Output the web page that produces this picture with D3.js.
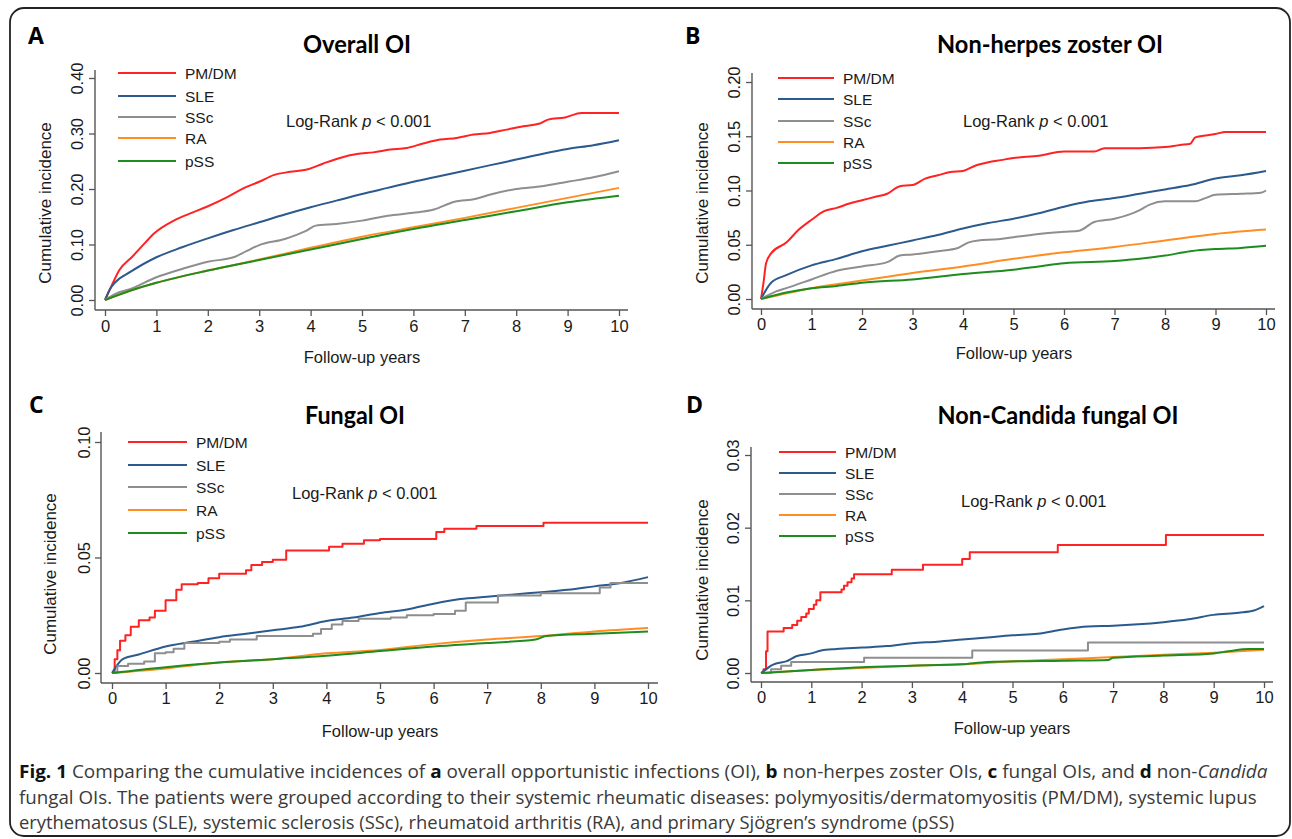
<!DOCTYPE html>
<html>
<head>
<meta charset="utf-8">
<script src="https://cdn.jsdelivr.net/npm/d3@7"></script>
<style>
  html, body { margin: 0; padding: 0; background: #fff; }
  svg { display: block; }
  text { font-family: "Liberation Sans", Arial, sans-serif; }
</style>
</head>
<body>
<svg id="chart" width="1292" height="839"></svg>
<script>
// ---------------- DATA ----------------
const categories = ["PM/DM", "SLE", "SSc", "RA", "pSS"];
const seriesColors = ["#ff2222", "#2c5a8c", "#8e8e8e", "#ff8e22", "#1e8c1e"];
const xTickValues = [0, 1, 2, 3, 4, 5, 6, 7, 8, 9, 10];
const xTitle = "Follow-up years";
const yTitle = "Cumulative incidence";
const logRankLabel = ["Log-Rank ", "p", " < 0.001"];

const panelLetters = ["A", "B", "C", "D"];
const panelTitles = ["Overall OI", "Non-herpes zoster OI", "Fungal OI", "Non-Candida fungal OI"];
const yTicksA = [0, 0.1, 0.2, 0.3, 0.4];
const yTicksB = [0, 0.05, 0.1, 0.15, 0.2];
const yTicksC = [0, 0.05, 0.1];
const yTicksD = [0, 0.01, 0.02, 0.03];
const yLabelFormatsByPanel = [".2f", ".2f", ".2f", ".2f"];

// Panel A: Overall OI  [years, cumulative incidence]
const A_PMDM = [[0,0],[0.12,0.024],[0.28,0.054],[0.53,0.078],[0.77,0.102],[0.97,0.121],[1.34,0.143],[1.66,0.156],[1.98,0.168],[2.35,0.184],[2.71,0.202],[3.0,0.213],[3.28,0.225],[3.6,0.231],[3.93,0.235],[4.25,0.246],[4.57,0.256],[4.9,0.263],[5.22,0.266],[5.55,0.271],[5.87,0.274],[6.19,0.282],[6.52,0.289],[6.84,0.292],[7.17,0.298],[7.49,0.301],[7.81,0.307],[8.14,0.313],[8.46,0.318],[8.62,0.325],[8.95,0.329],[9.27,0.337],[10,0.337]];
const A_SLE = [[0,0],[0.1,0.02],[0.2,0.032],[0.5,0.051],[1.0,0.077],[1.5,0.095],[2.0,0.111],[2.5,0.126],[3.0,0.140],[3.5,0.154],[4.0,0.167],[4.5,0.179],[5.0,0.191],[5.5,0.202],[6.0,0.213],[6.5,0.223],[7.0,0.233],[7.5,0.243],[8.0,0.253],[8.5,0.263],[9.0,0.272],[9.5,0.279],[10,0.288]];
const A_SSc = [[0,0],[0.2,0.011],[0.5,0.02],[1.0,0.041],[1.5,0.056],[2.0,0.069],[2.5,0.077],[2.75,0.088],[3.0,0.099],[3.5,0.110],[3.9,0.124],[4.1,0.134],[4.5,0.137],[5.0,0.143],[5.5,0.152],[6.0,0.157],[6.4,0.163],[6.8,0.177],[7.2,0.182],[7.5,0.190],[8.0,0.200],[8.5,0.205],[9.0,0.213],[9.5,0.221],[10,0.232]];
const A_RA = [[0,0],[0.5,0.017],[1,0.031],[2,0.053],[3,0.073],[4,0.094],[5,0.114],[6,0.131],[7,0.148],[8,0.166],[9,0.184],[10,0.202]];
const A_pSS = [[0,0],[0.5,0.017],[1,0.031],[2,0.053],[3,0.072],[4,0.091],[5,0.110],[6,0.128],[7,0.144],[8,0.160],[9,0.176],[10,0.188]];

// Panel B: Non-herpes zoster OI
const B_PMDM = [[0,0],[0.05,0.015],[0.1,0.033],[0.2,0.042],[0.5,0.052],[0.75,0.064],[1.0,0.073],[1.25,0.081],[1.5,0.084],[1.75,0.088],[2.0,0.091],[2.25,0.094],[2.5,0.097],[2.75,0.104],[3.0,0.105],[3.25,0.111],[3.5,0.114],[3.75,0.117],[4.0,0.118],[4.25,0.123],[4.5,0.126],[4.75,0.128],[5.0,0.130],[5.5,0.132],[6.0,0.136],[6.6,0.136],[6.8,0.139],[7.5,0.139],[8.0,0.140],[8.3,0.142],[8.5,0.143],[8.6,0.149],[9.0,0.152],[9.2,0.154],[10,0.154]];
const B_SLE = [[0,0],[0.2,0.015],[0.5,0.022],[1.0,0.031],[1.5,0.037],[2.0,0.044],[2.5,0.049],[3.0,0.054],[3.5,0.059],[4.0,0.065],[4.5,0.070],[5.0,0.074],[5.5,0.079],[6.0,0.085],[6.5,0.090],[7.0,0.093],[7.5,0.097],[8.0,0.101],[8.5,0.105],[9.0,0.111],[9.5,0.114],[10,0.118]];
const B_SSc = [[0,0],[0.3,0.007],[0.5,0.010],[1.0,0.018],[1.5,0.026],[2.0,0.030],[2.5,0.034],[2.75,0.040],[3.0,0.041],[3.5,0.044],[3.9,0.047],[4.1,0.052],[4.3,0.054],[4.7,0.055],[5.0,0.057],[5.5,0.060],[6.0,0.062],[6.3,0.063],[6.6,0.071],[7.0,0.074],[7.3,0.078],[7.5,0.082],[7.7,0.087],[8.0,0.090],[8.6,0.090],[8.8,0.093],[9.0,0.096],[9.5,0.097],[9.9,0.098],[10,0.100]];
const B_RA = [[0,0],[1,0.010],[2,0.017],[3,0.024],[4,0.030],[5,0.037],[6,0.043],[7,0.048],[8,0.054],[9,0.060],[10,0.064]];
const B_pSS = [[0,0],[0.5,0.006],[1,0.010],[1.5,0.012],[2,0.015],[3,0.018],[4,0.023],[5,0.027],[5.5,0.030],[6,0.033],[7,0.035],[7.5,0.037],[8,0.040],[8.5,0.044],[9,0.046],[9.5,0.047],[10,0.049]];

// Panel C: Fungal OI
const C_PMDM = [[0,0],[0.05,0.006],[0.1,0.0098],[0.15,0.014],[0.25,0.0163],[0.35,0.020],[0.5,0.0228],[0.7,0.024],[0.8,0.027],[1.0,0.0315],[1.2,0.036],[1.3,0.0384],[1.6,0.039],[1.8,0.041],[2.0,0.043],[2.5,0.0445],[2.6,0.0467],[2.8,0.048],[3.0,0.049],[3.25,0.053],[4.05,0.0546],[4.3,0.056],[4.7,0.0575],[5.0,0.058],[6.05,0.061],[6.2,0.0625],[6.8,0.0636],[8.05,0.065],[10,0.065]];
const C_SLE = [[0,0],[0.2,0.006],[0.5,0.008],[1.0,0.0115],[1.5,0.0135],[2.0,0.0155],[2.5,0.017],[3.0,0.0185],[3.5,0.020],[4.0,0.0225],[4.5,0.024],[5.0,0.026],[5.5,0.0275],[6.0,0.030],[6.5,0.032],[7.0,0.033],[7.5,0.034],[8.0,0.035],[8.5,0.036],[9.0,0.0375],[9.5,0.039],[10,0.0415]];
const C_SSc = [[0,0],[0.1,0.003],[0.3,0.004],[0.6,0.005],[0.8,0.0085],[1.0,0.009],[1.15,0.0105],[1.35,0.013],[2.0,0.0135],[2.2,0.0145],[2.7,0.016],[3.75,0.017],[3.9,0.019],[4.1,0.021],[4.3,0.0225],[4.6,0.0235],[5.2,0.024],[5.5,0.025],[6.0,0.0255],[6.4,0.027],[6.6,0.0305],[7.2,0.0335],[8.0,0.0345],[9.1,0.037],[9.3,0.039],[10,0.039]];
const C_RA = [[0,0],[1,0.002],[2,0.0045],[3,0.006],[4,0.0085],[5,0.010],[6,0.0125],[7,0.0145],[8,0.016],[9,0.018],[10,0.0195]];
const C_pSS = [[0,0],[1,0.0025],[2,0.0045],[3,0.006],[4,0.0075],[5,0.0095],[6,0.0115],[7,0.013],[7.9,0.0145],[8.1,0.016],[9,0.017],[10,0.018]];

// Panel D: Non-Candida fungal OI
const D_PMDM = [[0,0],[0.05,0.0005],[0.1,0.003],[0.13,0.0057],[0.45,0.0062],[0.62,0.0066],[0.72,0.0072],[0.8,0.0077],[0.9,0.0082],[0.95,0.0088],[1.05,0.0094],[1.1,0.0100],[1.18,0.0111],[1.6,0.0115],[1.65,0.012],[1.72,0.0125],[1.8,0.013],[1.85,0.0136],[2.6,0.0142],[3.22,0.0149],[4.0,0.0157],[4.15,0.0166],[5.9,0.0176],[8.05,0.0190],[10,0.0190]];
const D_SLE = [[0,0],[0.1,0.0005],[0.2,0.001],[0.3,0.0013],[0.5,0.0016],[0.7,0.0023],[1.0,0.0027],[1.2,0.0031],[1.5,0.0033],[2.0,0.0035],[2.5,0.0037],[3.0,0.0041],[3.5,0.0043],[4.0,0.0046],[4.5,0.0049],[5.0,0.0052],[5.5,0.0054],[6.0,0.0060],[6.5,0.0064],[7.0,0.0065],[7.5,0.0067],[8.0,0.0070],[8.5,0.0074],[9.0,0.0080],[9.5,0.0083],[9.8,0.0086],[10,0.0092]];
const D_SSc = [[0,0],[0.2,0.0005],[0.4,0.001],[0.6,0.0015],[2.05,0.0021],[4.2,0.0031],[6.5,0.0042],[10,0.0042]];
const D_RA = [[0,0],[1,0.0004],[2,0.0007],[3,0.001],[4,0.0012],[5,0.0016],[6,0.0019],[7,0.0022],[8,0.0025],[9,0.0028],[10,0.0032]];
const D_pSS = [[0,0],[1,0.0004],[2,0.0008],[3,0.001],[4,0.0012],[4.5,0.0015],[6,0.0017],[6.9,0.0018],[7.0,0.0021],[8,0.0024],[9,0.0027],[9.3,0.0030],[9.7,0.0033],[10,0.0033]];

// which series are drawn as steps (Kaplan-Meier style with few events)
const stepSeries = { "C_PMDM": true, "C_SSc": true, "D_PMDM": true, "D_SSc": true };

const captionLines = [
  [["Fig. 1", "b"], [" Comparing the cumulative incidences of ", ""], ["a", "b"], [" overall opportunistic infections (OI), ", ""], ["b", "b"], [" non-herpes zoster OIs, ", ""], ["c", "b"], [" fungal OIs, and ", ""], ["d", "b"], [" non-", ""], ["Candida", "i"]],
  [["fungal OIs. The patients were grouped according to their systemic rheumatic diseases: polymyositis/dermatomyositis (PM/DM), systemic lupus", ""]],
  [["erythematosus (SLE), systemic sclerosis (SSc), rheumatoid arthritis (RA), and primary Sjögren’s syndrome (pSS)", ""]]
];

// ---------------- LAYOUT ----------------
const panels = [
  { data: [A_PMDM, A_SLE, A_SSc, A_RA, A_pSS], keys: ["A_PMDM","A_SLE","A_SSc","A_RA","A_pSS"], yTicks: yTicksA,
    xr: [105, 619], yr: [300, 78], yAxisX: 95, yAxisTop: 70, xAxisY: 310, xAxisRight: 628,
    yLabX: 77, yTitleX: 45, yTitleY: 203, xLabY: 326, xTitlePos: [362, 357], titlePos: [357, 44], titleW: 108,
    letterPos: [28, 36], legX: [118, 176], legLabX: 185, legY: [73, 96, 117, 138, 161], lrPos: [286, 121] },
  { data: [B_PMDM, B_SLE, B_SSc, B_RA, B_pSS], keys: ["B_PMDM","B_SLE","B_SSc","B_RA","B_pSS"], yTicks: yTicksB,
    xr: [761, 1266], yr: [299, 82], yAxisX: 752, yAxisTop: 73, xAxisY: 309, xAxisRight: 1275,
    yLabX: 734, yTitleX: 702, yTitleY: 203, xLabY: 324, xTitlePos: [1014, 353], titlePos: [1050, 44], titleW: 226,
    letterPos: [685, 36], legX: [778, 834], legLabX: 843, legY: [78, 99, 121, 142, 163], lrPos: [963, 121] },
  { data: [C_PMDM, C_SLE, C_SSc, C_RA, C_pSS], keys: ["C_PMDM","C_SLE","C_SSc","C_RA","C_pSS"], yTicks: yTicksC,
    xr: [112, 648], yr: [673, 442], yAxisX: 101, yAxisTop: 432, xAxisY: 683, xAxisRight: 658,
    yLabX: 84, yTitleX: 50, yTitleY: 574, xLabY: 698, xTitlePos: [380, 731], titlePos: [355, 415], titleW: 100,
    letterPos: [29, 405], legX: [128, 187], legLabX: 196, legY: [442, 465, 487, 510, 533], lrPos: [292, 493] },
  { data: [D_PMDM, D_SLE, D_SSc, D_RA, D_pSS], keys: ["D_PMDM","D_SLE","D_SSc","D_RA","D_pSS"], yTicks: yTicksD,
    xr: [761, 1264], yr: [673, 455], yAxisX: 751, yAxisTop: 447, xAxisY: 682, xAxisRight: 1273,
    yLabX: 733, yTitleX: 702, yTitleY: 580, xLabY: 697, xTitlePos: [1012, 728], titlePos: [1058, 415], titleW: 241,
    letterPos: [686, 405], legX: [779, 836], legLabX: 845, legY: [452, 473, 494, 515, 536], lrPos: [961, 501] }
];

const svg = d3.select("#chart");
const axisColor = "#555";
const textColor = "#1a1a1a";

// outer rounded frame
svg.append("rect").attr("x", 10).attr("y", 8).attr("width", 1280).attr("height", 828)
  .attr("rx", 14).attr("ry", 14).attr("fill", "none").attr("stroke", "#222").attr("stroke-width", 1.8);

panels.forEach((p, pi) => {
  const g = svg.append("g");
  const yMax = p.yTicks[p.yTicks.length - 1];
  const x = d3.scaleLinear().domain([0, 10]).range(p.xr);
  const y = d3.scaleLinear().domain([0, yMax]).range(p.yr);
  const fmt = d3.format(yLabelFormatsByPanel[pi]);

  // panel letter
  g.append("text").attr("x", p.letterPos[0]).attr("y", p.letterPos[1]).attr("dy", "0.36em")
    .style("font-family", "'Open Sans', 'Liberation Sans', sans-serif").style("font-weight", "700")
    .style("font-size", "23px").attr("fill", "#000").text(panelLetters[pi]);

  // title
  const t = g.append("text").attr("text-anchor", "middle")
    .attr("transform", `translate(${p.titlePos[0]},${p.titlePos[1]})`).attr("dy", "0.36em")
    .style("font-family", "Lato, 'Open Sans', sans-serif").style("font-weight", "700")
    .style("font-size", "25px").attr("fill", "#000").text(panelTitles[pi]);
  const tl = t.node().getComputedTextLength();
  t.attr("transform", `translate(${p.titlePos[0]},${p.titlePos[1]}) scale(${p.titleW / tl},1)`);

  // axes lines
  g.append("line").attr("x1", p.yAxisX).attr("x2", p.yAxisX).attr("y1", p.yAxisTop).attr("y2", p.xAxisY)
    .attr("stroke", axisColor).attr("stroke-width", 1.4);
  g.append("line").attr("x1", p.yAxisX).attr("x2", p.xAxisRight).attr("y1", p.xAxisY).attr("y2", p.xAxisY)
    .attr("stroke", axisColor).attr("stroke-width", 1.4);

  // x axis ticks via d3 axis
  const xAxis = d3.axisBottom(x).tickValues(xTickValues).tickSize(6).tickPadding(4).tickFormat(d3.format("d"));
  const xg = g.append("g").attr("transform", `translate(0,${p.xAxisY})`).call(xAxis);
  xg.select(".domain").remove();
  xg.selectAll(".tick line").attr("stroke", axisColor).attr("stroke-width", 1.3);
  xg.selectAll(".tick text").attr("fill", textColor).attr("y", p.xLabY - p.xAxisY).attr("dy", "0.36em")
    .style("font-family", "'Liberation Sans', Arial, sans-serif").style("font-size", "16.5px");

  // y axis ticks via d3 axis, rotated labels
  const yAxis = d3.axisLeft(y).tickValues(p.yTicks).tickSize(6).tickFormat(fmt);
  const yg = g.append("g").attr("transform", `translate(${p.yAxisX},0)`).call(yAxis);
  yg.select(".domain").remove();
  yg.selectAll(".tick line").attr("stroke", axisColor).attr("stroke-width", 1.3);
  yg.selectAll(".tick text").attr("fill", textColor)
    .attr("x", null).attr("dy", null)
    .attr("text-anchor", "middle")
    .attr("transform", `translate(${p.yLabX - p.yAxisX},0) rotate(-90)`)
    .attr("dy", "0.36em")
    .style("font-family", "'Liberation Sans', Arial, sans-serif").style("font-size", "16.5px");

  // axis titles
  g.append("text").attr("text-anchor", "middle").attr("x", p.xTitlePos[0]).attr("y", p.xTitlePos[1]).attr("dy", "0.36em")
    .attr("fill", textColor).style("font-size", "16.5px").text(xTitle);
  g.append("text").attr("text-anchor", "middle").attr("dy", "0.36em")
    .attr("transform", `translate(${p.yTitleX},${p.yTitleY}) rotate(-90)`)
    .attr("fill", textColor).style("font-size", "17px").text(yTitle);

  // curves
  categories.forEach((c, ci) => {
    const isStep = !!stepSeries[p.keys[ci]];
    const line = d3.line().x(d => x(d[0])).y(d => y(d[1]))
      .curve(isStep ? d3.curveStepAfter : d3.curveMonotoneX);
    g.append("path").datum(p.data[ci]).attr("d", line).attr("fill", "none")
      .attr("stroke", seriesColors[ci]).attr("stroke-width", 2).attr("stroke-linejoin", "round");
  });

  // legend
  categories.forEach((c, ci) => {
    g.append("line").attr("x1", p.legX[0]).attr("x2", p.legX[1]).attr("y1", p.legY[ci]).attr("y2", p.legY[ci])
      .attr("stroke", seriesColors[ci]).attr("stroke-width", 2.2);
    g.append("text").attr("x", p.legLabX).attr("y", p.legY[ci]).attr("dy", "0.36em")
      .attr("fill", textColor).style("font-size", "15.5px").text(c);
  });

  // log-rank annotation
  const lr = g.append("text").attr("x", p.lrPos[0]).attr("y", p.lrPos[1]).attr("dy", "0.36em")
    .attr("fill", textColor).style("font-size", "16.5px");
  lr.append("tspan").text(logRankLabel[0]);
  lr.append("tspan").style("font-style", "italic").text(logRankLabel[1]);
  lr.append("tspan").text(logRankLabel[2]);
});

// caption
const capTargets = [[19, 778, 1268], [19, 804, 1258], [19, 829, 955]];
captionLines.forEach((segs, li) => {
  const tx = svg.append("text").attr("transform", `translate(${capTargets[li][0]},${capTargets[li][1]})`)
    .style("font-family", "'Open Sans', 'Noto Sans', sans-serif").style("font-size", "18px").attr("fill", "#3a3a3a");
  segs.forEach(s => {
    const ts = tx.append("tspan").text(s[0]);
    if (s[1] === "b") ts.style("font-weight", "700").attr("fill", "#111");
    if (s[1] === "i") ts.style("font-style", "italic");
  });
  const len = tx.node().getComputedTextLength();
  const sx = (capTargets[li][2] - capTargets[li][0]) / len;
  tx.attr("transform", `translate(${capTargets[li][0]},${capTargets[li][1]}) scale(${sx},1)`);
});
</script>
</body>
</html>
